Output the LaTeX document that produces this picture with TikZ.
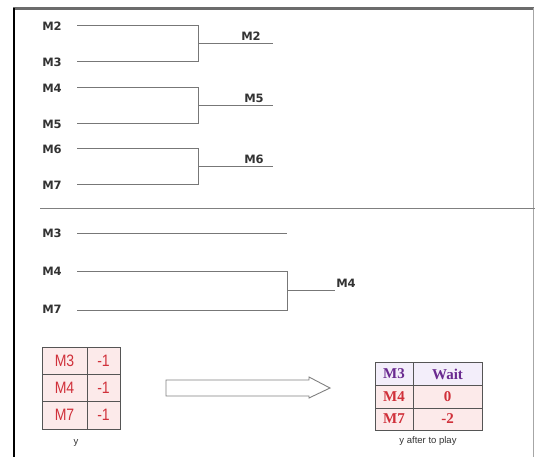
\documentclass[tikz,border=0pt]{standalone}
\usepackage{fontspec}
\setmainfont{Liberation Serif}
\newfontfamily\lblfont{DejaVu Sans}
\newfontfamily\cellfont{Liberation Sans}
\definecolor{lbltext}{HTML}{333333}
\definecolor{linegray}{HTML}{777777}
\definecolor{cellred}{HTML}{D0303A}
\definecolor{cellpink}{HTML}{FCEAEA}
\definecolor{cellpurple}{HTML}{6A2A90}
\definecolor{celllav}{HTML}{F3EEFA}
\definecolor{gridgray}{HTML}{555555}
\begin{document}
\begin{tikzpicture}[x=1pt,y=-1pt,
  lbl/.style={font=\lblfont\bfseries\fontsize{11.5}{13}\selectfont, text=lbltext, inner sep=0pt},
  wire/.style={draw=linegray, line width=0.9pt},
  lcell/.style={font=\cellfont\fontsize{16.5}{18}\selectfont, text=cellred, inner sep=0pt},
  rcell/.style={font=\bfseries\fontsize{15}{17}\selectfont, inner sep=0pt},
  captext/.style={font=\cellfont\fontsize{9.5}{11}\selectfont, text=lbltext, inner sep=0pt}]
\useasboundingbox (0,0) rectangle (535,457);
\fill[white] (0,0) rectangle (535,457);
% frame
\draw[draw=gray!85!black, line width=2.2pt] (13,8.5) -- (534,8.5);
\draw[black, line width=2pt] (14,8) -- (14,457);
\draw[draw=gray!70, line width=0.8pt] (533,8) -- (533,457);
\draw[draw=gray, line width=1pt] (40,208) -- (535,208);

% ---------- top section ----------
\node[lbl] (a2) at (52,26) {M2};
\node[lbl] (a3) at (52,62) {M3};
\node[lbl] (a4) at (52,88) {M4};
\node[lbl] (a5) at (52,124) {M5};
\node[lbl] (a6) at (52,149) {M6};
\node[lbl] (a7) at (52,185) {M7};
\coordinate (s2) at (77,25);  \coordinate (j2) at (198,25);
\coordinate (s3) at (77,61);  \coordinate (j3) at (198,61);
\coordinate (s4) at (77,87);  \coordinate (j4) at (198,87);
\coordinate (s5) at (77,123); \coordinate (j5) at (198,123);
\coordinate (s6) at (77,148); \coordinate (j6) at (198,148);
\coordinate (s7) at (77,184); \coordinate (j7) at (198,184);
\coordinate (m23) at (198,43);  \coordinate (e23) at (273,43);
\coordinate (m45) at (198,105); \coordinate (e45) at (273,105);
\coordinate (m67) at (198,166); \coordinate (e67) at (273,166);
\draw[wire] (s2) -- (j2) -- (j3) -- (s3);
\draw[wire] (s4) -- (j4) -- (j5) -- (s5);
\draw[wire] (s6) -- (j6) -- (j7) -- (s7);
\draw[wire] (m23) -- (e23);
\draw[wire] (m45) -- (e45);
\draw[wire] (m67) -- (e67);
\node[lbl] (o23) at (251,36) {M2};
\node[lbl] (o45) at (254,98) {M5};
\node[lbl] (o67) at (254,159) {M6};

% ---------- bottom section ----------
\node[lbl] (b3) at (52,233) {M3};
\node[lbl] (b4) at (52,271) {M4};
\node[lbl] (b7) at (52,309) {M7};
\coordinate (t3) at (77,233);  \coordinate (u3) at (287,233);
\coordinate (t4) at (77,271);  \coordinate (u4) at (287,271);
\coordinate (t7) at (77,310);  \coordinate (u7) at (287,310);
\coordinate (m47) at (287,290); \coordinate (e47) at (335,290);
\draw[wire] (t3) -- (u3);
\draw[wire] (t4) -- (u4) -- (u7) -- (t7);
\draw[wire] (m47) -- (e47);
\node[lbl] (o47) at (346,283) {M4};

% ---------- left table ----------
\fill[cellpink] (42,347) rectangle (120,429);
\draw[gridgray, line width=0.9pt] (42,347) rectangle (120,429);
\draw[gridgray, line width=0.9pt] (87,347) -- (87,429);
\draw[gridgray, line width=0.9pt] (42,374) -- (120,374);
\draw[gridgray, line width=0.9pt] (42,401) -- (120,401);
\node[lcell] (y3) at (64.5,361) {\scalebox{0.85}[1]{M3}};
\node[lcell] (v3) at (103.5,361) {\scalebox{0.85}[1]{-1}};
\node[lcell] (y4) at (64.5,388) {\scalebox{0.85}[1]{M4}};
\node[lcell] (v4) at (103.5,388) {\scalebox{0.85}[1]{-1}};
\node[lcell] (y7) at (64.5,415) {\scalebox{0.85}[1]{M7}};
\node[lcell] (v7) at (103.5,415) {\scalebox{0.85}[1]{-1}};
\node[captext] (ycap) at (76,443) {y};

% ---------- arrow ----------
\draw[draw=gray, line width=0.9pt, fill=white]
  (166,380) -- (309,380) -- (309,377) -- (330,388) -- (309,398) -- (309,396) -- (166,396) -- cycle;

% ---------- right table ----------
\fill[celllav] (375,362) rectangle (482,385);
\fill[cellpink] (375,385) rectangle (482,430);
\draw[gridgray, line width=0.9pt] (375,362) rectangle (482,430);
\draw[gridgray, line width=0.9pt] (413,362) -- (413,430);
\draw[gridgray, line width=0.9pt] (375,385) -- (482,385);
\draw[gridgray, line width=0.9pt] (375,408) -- (482,408);
\node[rcell, text=cellpurple] (r3) at (394,374) {M3};
\node[rcell, text=cellpurple] (w3) at (447.5,374) {Wait};
\node[rcell, text=cellred] (r4) at (394,397) {M4};
\node[rcell, text=cellred] (w4) at (447.5,397) {0};
\node[rcell, text=cellred] (r7) at (394,419) {M7};
\node[rcell, text=cellred] (w7) at (447.5,419) {-2};
\node[captext] (rcap) at (428,441) {y after to play};
\end{tikzpicture}
\end{document}
